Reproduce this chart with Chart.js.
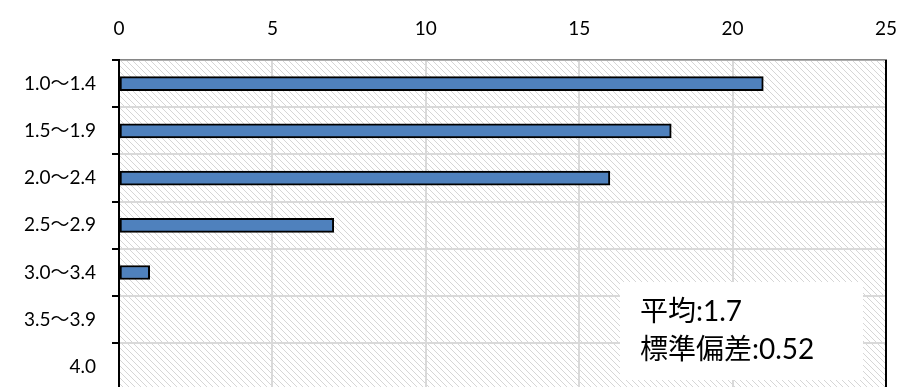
<!DOCTYPE html>
<html>
<head>
<meta charset="utf-8">
<script src="https://cdn.jsdelivr.net/npm/chart.js@4/dist/chart.umd.min.js"></script>
<style>
  html, body { margin: 0; padding: 0; background: #fff; overflow: hidden; }
  #chart { display: block; }
</style>
</head>
<body>
<canvas id="chart" width="902" height="418"></canvas>
<script>
// score ranges and number of people in each
const categories = ["1.0～1.4", "1.5～1.9", "2.0～2.4", "2.5～2.9", "3.0～3.4", "3.5～3.9", "4.0"];
const counts = [21, 18, 16, 7, 1, 0, 0];
const xTicks = [0, 5, 10, 15, 20, 25];
const statLines = ["平均:1.7", "標準偏差:0.52"];

const FONT = "Lato, 'Noto Sans CJK JP', sans-serif";

// diagonal hatch used behind the plot
function makeHatch() {
    const c = document.createElement("canvas");
    c.width = 6;
    c.height = 6;
    const g = c.getContext("2d");
    g.fillStyle = "#fff";
    g.fillRect(0, 0, 6, 6);
    g.strokeStyle = "#d6d6d6";
    g.lineWidth = 1;
    g.beginPath();
    g.moveTo(-2, -2); g.lineTo(8, 8);
    g.moveTo(-2, 4); g.lineTo(2, 8);
    g.moveTo(4, -2); g.lineTo(8, 2);
    g.stroke();
    return g.createPattern(c, "repeat");
}

const plotDecor = {
    id: "plotDecor",
    beforeDraw(chart) {
        const { ctx, chartArea: a } = chart;
        ctx.save();
        ctx.fillStyle = makeHatch();
        ctx.fillRect(a.left, a.top, a.right - a.left, a.bottom - a.top);
        ctx.restore();
    },
    afterDraw(chart) {
        const { ctx, chartArea: a } = chart;
        ctx.save();
        // right edge of the plot
        ctx.strokeStyle = "#000";
        ctx.lineWidth = 2;
        ctx.beginPath();
        ctx.moveTo(a.right, a.top);
        ctx.lineTo(a.right, a.bottom);
        ctx.stroke();
        // stats box
        const bx = a.right - 266, by = 282;
        ctx.fillStyle = "#fff";
        ctx.fillRect(bx, by, 243, 98);
        ctx.fillStyle = "#000";
        ctx.font = "28px " + FONT;
        ctx.textBaseline = "middle";
        ctx.textAlign = "left";
        ctx.fillText(statLines[0], bx + 20, by + 30);
        ctx.fillText(statLines[1], bx + 20, by + 68);
        ctx.restore();
    }
};

new Chart(document.getElementById("chart"), {
    type: "bar",
    data: {
        labels: categories,
        datasets: [{
            data: counts,
            backgroundColor: "#4f81bd",
            borderColor: "#000",
            borderWidth: 2,
            borderSkipped: false,
            barThickness: 14
        }]
    },
    options: {
        indexAxis: "y",
        responsive: false,
        animation: false,
        layout: { padding: { top: 0, right: 16, bottom: 1, left: 0 } },
        plugins: {
            legend: { display: false },
            tooltip: { enabled: false }
        },
        scales: {
            x: {
                position: "top",
                min: xTicks[0],
                max: xTicks[xTicks.length - 1],
                afterBuildTicks(scale) {
                    scale.ticks = xTicks.map(v => ({ value: v }));
                },
                afterFit(scale) { scale.height = 60; },
                // invisible tick marks keep the labels clear of the plot
                grid: { color: "#d9d9d9", lineWidth: 2, tickLength: 20, tickColor: "rgba(0,0,0,0)" },
                border: { color: "#868686", width: 1.5 },
                ticks: { color: "#000", padding: 0, font: { family: FONT, size: 19 } }
            },
            y: {
                afterFit(scale) { scale.width = 119; },
                grid: {
                    offset: true,
                    color: "#d9d9d9",
                    lineWidth: 2,
                    tickColor: "#000",
                    tickLength: 7
                },
                border: { color: "#000", width: 2 },
                ticks: { color: "#000", padding: 16, font: { family: FONT, size: 19 } }
            }
        }
    },
    plugins: [plotDecor]
});
</script>
</body>
</html>
